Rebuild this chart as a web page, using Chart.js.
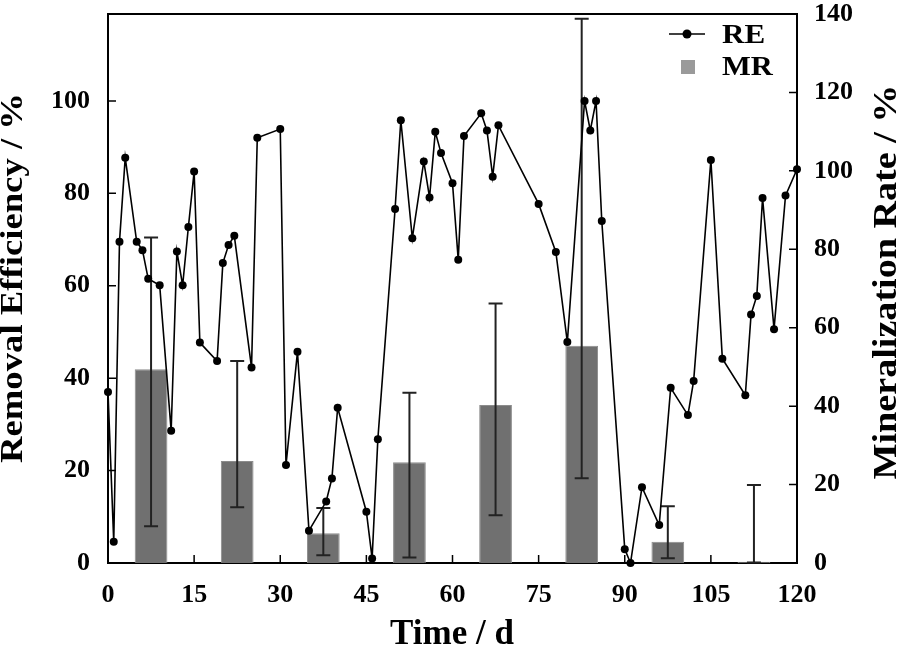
<!DOCTYPE html>
<html>
<head>
<meta charset="utf-8">
<script src="https://cdn.jsdelivr.net/npm/chart.js@4.4.1/dist/chart.umd.min.js"></script>
<style>
  html, body { margin: 0; padding: 0; background: #fff; }
  #wrap { width: 898px; height: 645px; }
</style>
</head>
<body>
<div id="wrap"><canvas id="chart" width="898" height="645"></canvas></div>
<script>
// removal efficiency, left axis (%)
var reDays = [0, 1, 2, 3, 5, 6, 7, 9, 11, 12, 13, 14, 15, 16, 19, 20, 21, 22, 25, 26,
  30, 31, 33, 35, 38, 39, 40, 45, 46, 47, 50, 51, 53, 55, 56, 57, 58, 60, 61, 62,
  65, 66, 67, 68, 75, 78, 80, 83, 84, 85, 86, 90, 91, 93, 96, 98, 101, 102, 105, 107,
  111, 112, 113, 114, 116, 118, 120]
var reValues = [37, 4.6, 69.5, 87.7, 69.5, 67.7, 61.5, 60.1, 28.6, 67.4, 60.1, 72.7, 84.7, 47.7, 43.7, 64.9, 68.8, 70.8, 42.3, 92.0,
  93.9, 21.2, 45.7, 7.0, 13.3, 18.3, 33.6, 11.1, 1.0, 26.8, 76.6, 95.8, 70.3, 86.9, 79.1, 93.3, 88.7, 82.2, 65.6, 92.4,
  97.3, 93.6, 83.6, 94.7, 77.7, 67.3, 47.8, 100, 93.6, 100, 74.0, 3.0, 0, 16.4, 8.2, 37.9, 32.0, 39.4, 87.2, 44.2,
  36.3, 53.8, 57.8, 79.0, 50.6, 79.5, 85.2]

// mineralization rate, right axis (%), with error range
var mrDays = [7.5, 22.5, 37.5, 52.5, 67.5, 82.5, 97.5, 112.5]
var mrValues = [49.4, 26.0, 7.6, 25.7, 40.3, 55.4, 5.4, 0.3]
var mrUpper = [83.0, 51.5, 14.0, 43.4, 66.2, 138.8, 14.5, 19.9]
var mrLower = [9.4, 14.2, 2.0, 1.4, 12.2, 21.6, 1.2, 0.1]

var dayTicks = [0, 15, 30, 45, 60, 75, 90, 105, 120]
var reTicks = [0, 20, 40, 60, 80, 100]
var mrTicks = [0, 20, 40, 60, 80, 100, 120, 140]

var FONT = '"Liberation Serif", "Times New Roman", serif'

function boldText(ctx, txt, x, y, size, opts) {
	opts = opts || {}
	ctx.save()
	ctx.translate(x, y)
	if (opts.rotate) ctx.rotate(opts.rotate)
	ctx.font = 'bold ' + size + 'px ' + FONT
	ctx.textAlign = opts.align || 'center'
	ctx.textBaseline = 'alphabetic'
	var sx = 1
	if (opts.length) sx = opts.length / ctx.measureText(txt).width
	else if (opts.stretch) sx = opts.stretch
	ctx.scale(sx, 1)
	ctx.fillStyle = '#000'
	ctx.fillText(txt, 0, 0)
	ctx.restore()
}

// error bars on the MR columns
var errorBars = {
	id: 'errorBars',
	afterDatasetDraw(chart, args) {
		if (args.index !== 1) return
		var ctx = chart.ctx, sx = chart.scales.x, sy = chart.scales.y2
		ctx.save()
		ctx.strokeStyle = '#222'
		ctx.lineWidth = 2
		ctx.beginPath()
		mrDays.forEach((d, i) => {
			var x = sx.getPixelForValue(d)
			var top = sy.getPixelForValue(mrUpper[i])
			var bot = sy.getPixelForValue(mrLower[i])
			ctx.moveTo(x, top); ctx.lineTo(x, bot)
			ctx.moveTo(x - 7, top); ctx.lineTo(x + 7, top)
			ctx.moveTo(x - 7, bot); ctx.lineTo(x + 7, bot)
		})
		ctx.stroke()
		ctx.restore()
	}
}

// top frame line, inner tick marks, legend and axis titles
var frame = {
	id: 'frame',
	afterDraw(chart) {
		var ctx = chart.ctx, a = chart.chartArea, s = chart.scales
		ctx.save()
		ctx.strokeStyle = '#000'
		ctx.lineWidth = 2
		ctx.beginPath()
		ctx.moveTo(a.left - 1, a.top)
		ctx.lineTo(a.right + 1, a.top)
		ctx.stroke()

		ctx.lineWidth = 1.5
		ctx.beginPath()
		reTicks.forEach(v => {
			if (!v) return
			var y = s.y.getPixelForValue(v)
			ctx.moveTo(a.left, y); ctx.lineTo(a.left + 8, y)
		})
		mrTicks.forEach(v => {
			if (!v || v === 140) return
			var y = s.y2.getPixelForValue(v)
			ctx.moveTo(a.right, y); ctx.lineTo(a.right - 8, y)
		})
		dayTicks.forEach(v => {
			if (v === 0 || v === 120) return
			var x = s.x.getPixelForValue(v)
			ctx.moveTo(x, a.bottom); ctx.lineTo(x, a.bottom - 8)
		})
		ctx.stroke()

		// legend
		var lx = a.right - 110
		ctx.lineWidth = 1.5
		ctx.beginPath()
		ctx.moveTo(lx - 18, 34); ctx.lineTo(lx + 18, 34)
		ctx.stroke()
		ctx.fillStyle = '#000'
		ctx.beginPath()
		ctx.arc(lx, 34, 4.5, 0, Math.PI * 2)
		ctx.fill()
		ctx.fillStyle = '#9a9a9a'
		ctx.fillRect(lx - 6, 60, 14, 14)
		boldText(ctx, 'RE', lx + 35, 43, 27, {align: 'left', stretch: 1.15})
		boldText(ctx, 'MR', lx + 35, 75, 27, {align: 'left', stretch: 1.13})

		// axis titles
		boldText(ctx, 'Removal Efficiency / %', 22, 278, 31, {rotate: -Math.PI / 2, length: 370})
		boldText(ctx, 'Mineralization Rate / %', 896, 282, 33, {rotate: -Math.PI / 2, length: 395})
		boldText(ctx, 'Time / d', 452, 644, 35)
		ctx.restore()
	}
}

var tickFont = {family: FONT, size: 26, weight: 'bold'}

function fitY(w) {
	return scale => {
		scale.width = w
		scale.paddingTop = 0
		scale.paddingBottom = 0
	}
}

new Chart(document.getElementById('chart').getContext('2d'), {
	type: 'line',
	data: {
		datasets: [{
			label: 'RE',
			type: 'line',
			data: reDays.map((d, i) => ({x: d, y: reValues[i]})),
			yAxisID: 'y',
			borderColor: '#000',
			borderWidth: 1.6,
			pointRadius: 4,
			pointBackgroundColor: '#000',
			pointBorderWidth: 0,
			tension: 0,
			clip: false,
			order: 0
		}, {
			label: 'MR',
			type: 'bar',
			data: mrDays.map((d, i) => ({x: d, y: mrValues[i]})),
			yAxisID: 'y2',
			backgroundColor: '#707070',
			borderColor: '#8c8c8c',
			borderWidth: 1,
			barPercentage: 0.38,
			categoryPercentage: 1,
			order: 1
		}]
	},
	options: {
		responsive: false,
		animation: false,
		layout: {padding: {top: 14, left: 0, right: 0, bottom: 0}},
		plugins: {legend: {display: false}, tooltip: {enabled: false}},
		scales: {
			x: {
				type: 'linear',
				min: 0, max: 120,
				offset: false,
				afterBuildTicks: scale => { scale.ticks = dayTicks.map(v => ({value: v})) },
				afterFit: scale => { scale.height = 82; scale.paddingLeft = 0; scale.paddingRight = 0 },
				grid: {display: false},
				border: {display: true, color: '#000', width: 2},
				ticks: {font: tickFont, color: '#000', padding: 9, maxRotation: 0, autoSkip: false}
			},
			y: {
				position: 'left',
				min: 0, max: 118.8,
				afterBuildTicks: scale => { scale.ticks = reTicks.map(v => ({value: v})) },
				afterFit: fitY(108),
				grid: {display: false},
				border: {display: true, color: '#000', width: 2},
				ticks: {font: tickFont, color: '#000', padding: 10}
			},
			y2: {
				position: 'right',
				min: 0, max: 140,
				afterBuildTicks: scale => { scale.ticks = mrTicks.map(v => ({value: v})) },
				afterFit: fitY(101),
				grid: {display: false},
				border: {display: true, color: '#000', width: 2},
				ticks: {font: tickFont, color: '#000', padding: 9}
			}
		}
	},
	plugins: [errorBars, frame]
})
</script>
</body>
</html>
